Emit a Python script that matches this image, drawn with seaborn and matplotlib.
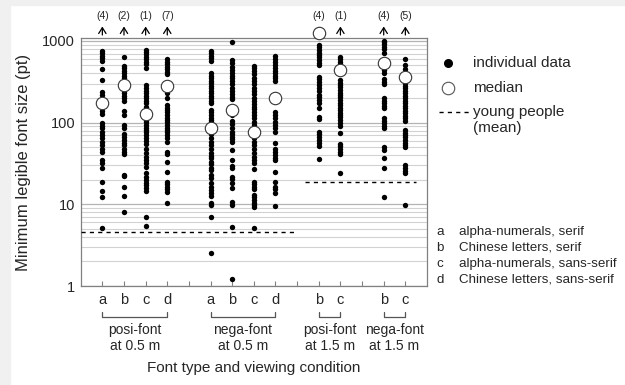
import numpy as np
import pandas as pd
import seaborn as sns
import matplotlib.pyplot as plt
from matplotlib.lines import Line2D
from matplotlib.patches import Rectangle
from matplotlib.ticker import LogLocator, FixedLocator, NullFormatter
import matplotlib.transforms as mtransforms

# minimum legible font size (pt), one list per font type / viewing condition
posi05_a = [752, 705, 659, 612, 568, 453, 332, 239, 218, 157, 139, 126, 98, 92, 85, 77, 70, 64,
            58, 53, 48, 44, 35, 32, 28, 18.6, 14.6, 12.4, 5.1]
posi05_b = [641, 497, 462, 432, 401, 375, 349, 263, 244, 228, 212, 198, 185, 139, 124, 94, 85, 72,
            67, 61, 57, 53, 48, 44, 41, 23, 22, 16.4, 12.7, 8.1]
posi05_c = [774, 725, 685, 641, 600, 556, 517, 470, 289, 263, 244, 228, 213, 198, 184, 172, 157,
            147, 108, 101, 94, 87, 81, 76, 70, 64, 60, 54, 48, 43, 38, 35, 32, 29, 24.4, 21.8,
            19.8, 18.4, 17.2, 15.7, 14.7, 7.0, 5.4]
posi05_d = [600, 556, 517, 483, 453, 419, 392, 228, 198, 164, 153, 143, 134, 124, 115, 108, 101,
            94, 87, 81, 76, 70, 64, 58, 44, 41, 33, 25, 18.9, 17.7, 16.4, 15.2, 14.3, 10.3]
nega05_a = [752, 705, 659, 612, 568, 401, 375, 349, 326, 303, 283, 263, 244, 228, 213, 198, 184,
            172, 143, 134, 124, 115, 108, 101, 72, 64, 58, 53, 48, 42, 39, 36.6, 33, 31, 28, 26,
            22.8, 20.8, 18.4, 16.4, 15, 13.6, 12.6, 10.3, 9.8, 6.9, 2.55]
nega05_b = [980, 584, 532, 483, 441, 401, 375, 349, 323, 294, 267, 244, 222, 207, 194, 124, 105,
            95, 87, 77, 72, 67, 63, 58, 46, 35, 29.4, 28, 21.8, 20.2, 18.4, 15.7, 10.8, 9.8, 5.3,
            1.21]
nega05_c = [497, 462, 427, 392, 355, 323, 294, 267, 244, 222, 202, 184, 167, 157, 147, 136, 124,
            113, 103, 94, 64, 58, 53, 48, 42, 38, 35, 32, 27, 19, 17.7, 16.4, 15.2, 13, 12.2,
            11.3, 10.5, 9.8, 9.2, 5.1]
nega05_d = [659, 600, 556, 505, 467, 427, 401, 375, 349, 323, 136, 124, 113, 103, 94, 85, 77, 56,
            48, 44, 40, 36.6, 35, 25, 19, 16.4, 15.2, 13.9, 9.4]
posi15_b = [891, 835, 774, 717, 672, 630, 584, 541, 507, 365, 339, 317, 289, 263, 246, 218, 204,
            189, 175, 150, 118, 110, 77, 72, 67, 62, 57, 52, 35.6]
posi15_c = [630, 595, 556, 522, 332, 307, 289, 270, 250, 232, 218, 204, 189, 175, 164, 153, 143,
            132, 124, 116, 108, 98, 91, 75, 55, 51, 47, 44, 41, 23.9]
nega15_b = [1000, 977, 916, 849, 789, 717, 475, 441, 408, 339, 317, 297, 198, 185, 172, 160, 150,
            113, 105, 98, 91, 85, 50, 46, 36.6, 27.6, 12.4]
nega15_c = [596, 507, 449, 303, 281, 263, 246, 228, 212, 198, 185, 172, 160, 150, 140, 130, 120,
            113, 105, 81, 75, 70, 66, 61, 57, 53, 50, 30, 27.6, 25.8, 23.9, 9.8]

conditions = ["posi-font\nat 0.5 m", "nega-font\nat 0.5 m", "posi-font\nat 1.5 m", "nega-font\nat 1.5 m"]
fonts = [["a", "b", "c", "d"], ["a", "b", "c", "d"], ["b", "c"], ["b", "c"]]
values = [[posi05_a, posi05_b, posi05_c, posi05_d],
          [nega05_a, nega05_b, nega05_c, nega05_d],
          [posi15_b, posi15_c],
          [nega15_b, nega15_c]]
medians = [[173, 285, 126, 281], [86, 143, 76, 202], [1260, 440], [541, 358]]
n_above = [[4, 2, 1, 7], [0, 0, 0, 0], [4, 1], [4, 5]]
young_mean = [4.6, 18.9]  # 0.5 m, 1.5 m

key_letters = ["a", "b", "c", "d"]
key_labels = ["alpha-numerals, serif", "Chinese letters, serif",
              "alpha-numerals, sans-serif", "Chinese letters, sans-serif"]

# x positions: one slot per column, one empty slot between conditions
rows, med_rows, positions, tick_labels, spans = [], [], [], [], []
pos = 0
for cond, fl, vl, ml, nl in zip(conditions, fonts, values, medians, n_above):
    start = pos + 1
    for f, v, m, n in zip(fl, vl, ml, nl):
        pos += 1
        positions.append(pos)
        tick_labels.append(f)
        rows += [{"pos": pos, "size": s} for s in v]
        med_rows.append({"pos": pos, "median": m, "above": n})
    spans.append((cond, start, pos))
    pos += 1
dots = pd.DataFrame(rows)
meds = pd.DataFrame(med_rows)

W, H = 625, 385
AX_L, AX_R, AX_T, AX_B = 80.7, 427, 38.3, 286


def fx(p):
    return p / W


def fy(p):
    return 1 - p / H


def ay(p):
    return (AX_B - p) / (AX_B - AX_T)


sns.set_theme(style="white")
plt.rcParams["font.family"] = ["Liberation Sans", "DejaVu Sans"]

fig = plt.figure(figsize=(W / 100, H / 100), dpi=100, facecolor="white")
fig.patches.append(Rectangle((0, 0), fx(10), 1, transform=fig.transFigure, color="#f0f0f0", zorder=0))
fig.patches.append(Rectangle((0, fy(5)), 1, 5 / H, transform=fig.transFigure, color="#f0f0f0", zorder=0))

ax = fig.add_axes([fx(AX_L), fy(AX_B), (AX_R - AX_L) / W, (AX_B - AX_T) / H])
ax.set_yscale("log")
ax.set_ylim(1, 1076)
ax.set_xlim(0, pos)

sns.scatterplot(data=dots, x="pos", y="size", color="black", s=15, linewidth=0,
                legend=False, ax=ax, zorder=3)
sns.scatterplot(data=meds, x="pos", y="median", color="white", edgecolor="#333333",
                s=80, linewidth=0.8, legend=False, ax=ax, zorder=5, clip_on=False)

# young people mean (dashed)
gap = spans[1][2] + 1
ax.plot([0, gap], [young_mean[0]] * 2, color="black", lw=1, ls=(0, (3, 3)), zorder=4)
ax.plot([gap + 0.35, pos - 0.5], [young_mean[1]] * 2, color="black", lw=1, ls=(0, (3, 3)), zorder=4)

# grid and axes styling
ax.yaxis.set_major_locator(FixedLocator([1, 10, 100, 1000]))
ax.set_yticklabels(["1", "10", "100", "1000"])
ax.yaxis.set_minor_locator(LogLocator(base=10, subs=np.arange(2, 10)))
ax.yaxis.set_minor_formatter(NullFormatter())
ax.grid(which="major", axis="y", color="#b4b4b4", lw=0.9, zorder=0)
ax.grid(which="minor", axis="y", color="#d2d2d2", lw=0.8, zorder=0)
ax.grid(axis="x", visible=False)
for sp in ax.spines.values():
    sp.set_color("#808080")
    sp.set_linewidth(0.9)

ax.set_xticks(range(1, pos))
ax.set_xticklabels([tick_labels[positions.index(p)] if p in positions else "" for p in range(1, pos)])
ax.tick_params(axis="x", direction="in", length=3.5, width=0.8, color="#808080",
               labelsize=10.5, pad=5, bottom=True)
ax.tick_params(axis="y", which="both", length=0, labelsize=10.5, pad=4)

ax.set_xlabel("Font type and viewing condition", fontsize=11)
ax.xaxis.set_label_coords(0.5, ay(361))
ax.set_ylabel("Minimum legible font size (pt)", fontsize=12)
ax.yaxis.set_label_coords((31 - AX_L) / (AX_R - AX_L), 0.5)

# group brackets and labels under the axis
blend = mtransforms.blended_transform_factory(ax.transData, ax.transAxes)
for cond, a, b in spans:
    ax.plot([a, a, b, b], [ay(312), ay(316.5), ay(316.5), ay(312)], color="#555555", lw=0.9,
            transform=blend, clip_on=False)
    ax.text((a + b) / 2, ay(338), cond, transform=blend, ha="center", va="center",
            fontsize=10, linespacing=1.15)

# points beyond the top of the axis
for _, r in meds.iterrows():
    if r["above"] > 0:
        ax.annotate("", xy=(r["pos"], ay(26.5)), xytext=(r["pos"], ay(35)), xycoords=blend,
                    arrowprops=dict(arrowstyle="->,head_length=0.35,head_width=0.22",
                                    lw=0.9, color="black", shrinkA=0, shrinkB=0), zorder=2)
        ax.text(r["pos"], ay(16), f"({int(r['above'])})", transform=blend, ha="center",
                va="center", fontsize=7.5)

# legend on the right
fig.add_artist(Line2D([fx(448)], [fy(63)], marker="o", ms=5.5, color="black", ls="",
                      transform=fig.transFigure))
fig.add_artist(Line2D([fx(448)], [fy(88)], marker="o", ms=9, mfc="white", mec="#555555",
                      mew=0.8, ls="", transform=fig.transFigure))
fig.add_artist(Line2D([fx(439), fx(470)], [fy(112), fy(112)], color="black", lw=1,
                      ls=(0, (3, 3)), transform=fig.transFigure))
fig.text(fx(473), fy(63), "individual data", fontsize=11, va="center")
fig.text(fx(473), fy(88), "median", fontsize=11, va="center")
fig.text(fx(473), fy(112), "young people", fontsize=11, va="center")
fig.text(fx(473), fy(128), "(mean)", fontsize=11, va="center")

# font type key
for i, (letter, lab) in enumerate(zip(key_letters, key_labels)):
    y = 232 + 16 * i
    fig.text(fx(440), fy(y), letter, fontsize=9.6, va="center", ha="center")
    fig.text(fx(459), fy(y), lab, fontsize=9.6, va="center")

fig.savefig("out.png", dpi=100, facecolor="white")
